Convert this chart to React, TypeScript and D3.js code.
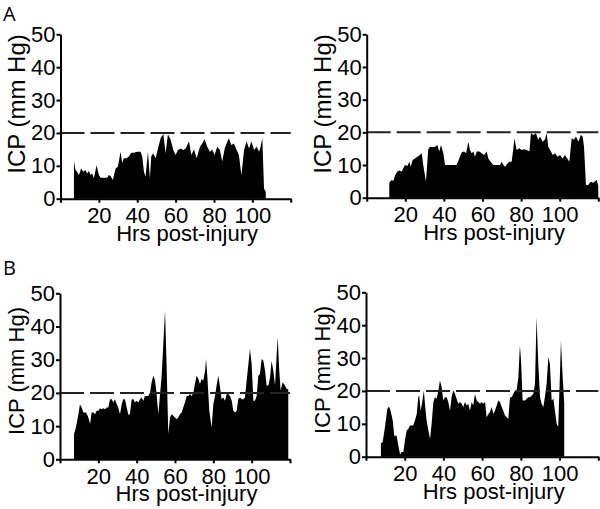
import React, { useRef, useEffect } from "react";
import * as d3 from "d3";

// ICP traces (hours post-injury, mm Hg)
const aLeftHours = [7.0, 7.8, 8.3, 9.6, 10.8, 11.8, 13.0, 13.9, 14.8, 15.7, 16.5, 17.4, 18.8, 20.0, 20.9, 22.6, 24.3, 25.2, 26.1, 27.3, 28.7, 29.9, 31.3, 32.2, 33.0, 34.4, 35.7, 36.9, 38.3, 40.0, 41.7, 42.6, 43.5, 44.3, 45.6, 46.6, 47.3, 48.3, 49.6, 50.8, 52.2, 53.6, 54.8, 56.0, 57.4, 58.8, 60.0, 61.2, 62.6, 64.0, 65.2, 67.0, 68.2, 69.6, 71.0, 72.7, 73.9, 75.1, 76.5, 77.9, 79.1, 80.3, 81.7, 83.1, 84.3, 85.6, 87.0, 87.8, 89.0, 90.4, 91.8, 93.0, 94.3, 95.7, 97.0, 98.3, 99.5, 100.9, 102.3, 103.5, 104.3, 105.2, 106.1, 107.0];
const aLeftIcp = [11.5, 8.7, 8.5, 7.2, 9.2, 8.2, 8.7, 7.7, 8.4, 7.2, 7.7, 6.2, 10.2, 7.2, 6.4, 6.4, 6.4, 7.2, 6.9, 5.7, 9.2, 9.7, 14.3, 10.8, 12.3, 12.3, 12.8, 14.0, 14.0, 14.3, 14.3, 12.8, 8.2, 6.7, 14.3, 6.2, 12.8, 13.8, 12.3, 15.3, 18.4, 19.7, 13.8, 19.6, 17.9, 14.8, 13.3, 14.8, 15.3, 14.8, 15.3, 17.4, 13.3, 15.0, 12.3, 15.8, 16.8, 18.1, 15.8, 14.3, 15.0, 13.3, 15.8, 14.8, 11.3, 15.3, 17.4, 18.4, 16.3, 16.8, 14.8, 13.3, 7.2, 14.8, 17.4, 15.3, 17.4, 14.8, 15.8, 14.3, 15.8, 18.4, 3.1, 2.1];

const aRightHours = [11.7, 12.9, 13.8, 14.7, 15.9, 16.9, 18.1, 19.0, 19.8, 21.1, 22.1, 22.8, 23.8, 25.0, 26.2, 27.6, 28.5, 29.3, 30.7, 31.9, 32.8, 34.2, 35.4, 36.6, 37.6, 38.5, 39.7, 40.6, 43.0, 46.6, 48.0, 49.2, 50.4, 51.5, 52.7, 53.5, 54.4, 55.3, 56.1, 57.0, 58.4, 59.6, 60.8, 62.2, 63.0, 64.2, 65.6, 67.3, 69.1, 69.9, 70.8, 71.7, 72.9, 73.9, 75.1, 76.0, 76.5, 77.7, 79.1, 80.3, 81.5, 82.9, 84.3, 85.1, 86.3, 87.7, 88.9, 89.8, 91.2, 92.4, 93.2, 94.1, 95.0, 96.4, 97.6, 98.8, 100.2, 101.5, 102.7, 103.9, 105.0, 106.2, 107.4, 108.4, 109.7, 110.9, 111.9, 112.6, 113.6, 114.8, 116.0, 117.4, 119.2, 120.0];
const aRightIcp = [4.6, 5.4, 5.1, 6.9, 8.0, 8.3, 8.0, 9.0, 10.0, 9.7, 11.0, 9.5, 11.5, 12.0, 12.5, 13.1, 13.6, 10.0, 4.9, 14.8, 15.6, 15.4, 15.6, 16.1, 14.1, 16.1, 13.6, 10.0, 10.0, 10.0, 12.1, 13.8, 14.1, 13.6, 17.1, 14.6, 13.6, 14.1, 12.5, 14.1, 14.1, 13.6, 13.1, 14.1, 12.0, 11.0, 10.0, 10.0, 10.0, 11.0, 10.0, 9.5, 10.5, 11.0, 11.0, 15.1, 18.2, 14.6, 15.1, 14.6, 14.8, 14.6, 14.1, 19.7, 19.2, 19.7, 17.7, 18.7, 17.1, 17.9, 19.7, 15.6, 14.6, 13.1, 13.6, 12.5, 13.1, 12.0, 13.1, 12.0, 11.0, 18.2, 17.7, 18.7, 17.1, 19.2, 18.7, 15.6, 3.9, 3.9, 4.9, 4.6, 5.4, 3.6];

const bLeftHours = [7.3, 8.3, 9.6, 10.4, 11.3, 12.2, 13.6, 14.8, 15.7, 16.5, 17.4, 18.3, 19.1, 20.0, 20.9, 21.7, 22.6, 23.5, 24.3, 25.2, 26.1, 27.0, 27.8, 28.7, 29.6, 30.4, 31.3, 32.2, 33.0, 33.9, 34.8, 35.7, 36.5, 37.4, 38.3, 39.1, 40.0, 40.9, 41.7, 42.6, 43.5, 44.3, 45.2, 46.1, 47.0, 47.8, 48.7, 49.6, 50.4, 51.3, 52.2, 53.0, 53.9, 54.8, 55.7, 56.5, 57.4, 58.3, 59.1, 60.0, 60.9, 61.7, 62.6, 63.5, 64.3, 65.2, 66.1, 67.0, 67.8, 68.7, 69.6, 70.4, 71.3, 72.2, 73.0, 73.9, 74.8, 75.7, 76.2, 76.9, 77.9, 79.1, 80.0, 80.9, 81.7, 82.6, 83.5, 84.3, 85.2, 86.1, 87.0, 87.8, 88.7, 89.6, 90.4, 91.3, 92.2, 93.0, 93.9, 94.8, 95.7, 96.5, 97.4, 98.3, 99.1, 100.0, 100.9, 101.7, 102.6, 103.5, 104.3, 105.2, 106.1, 107.0, 107.8, 108.7, 109.6, 110.4, 111.3, 112.2, 113.0, 113.6, 114.4, 115.1, 116.2, 117.4, 118.3, 119.1];
const bLeftIcp = [7.6, 9.6, 13.6, 16.6, 15.6, 14.1, 14.1, 12.6, 10.6, 14.1, 14.1, 13.6, 14.6, 14.6, 15.4, 15.1, 15.4, 15.1, 15.6, 15.6, 18.1, 18.1, 17.1, 18.1, 16.6, 15.6, 13.6, 16.6, 18.1, 18.1, 15.6, 13.4, 13.6, 18.1, 18.1, 17.1, 17.6, 17.1, 18.1, 18.6, 17.6, 19.1, 19.1, 19.1, 20.1, 23.2, 25.2, 23.7, 19.7, 13.6, 19.7, 24.7, 34.7, 44.8, 26.7, 7.6, 12.6, 13.6, 13.1, 12.6, 12.1, 12.6, 13.6, 14.1, 15.6, 17.1, 19.1, 19.1, 19.7, 19.1, 20.1, 22.7, 25.2, 24.2, 22.7, 24.2, 23.7, 26.7, 30.2, 24.7, 14.6, 9.6, 16.6, 19.1, 22.2, 25.2, 21.7, 18.1, 18.6, 17.6, 19.7, 19.7, 19.1, 17.6, 14.6, 14.1, 14.6, 18.1, 18.6, 18.1, 18.1, 18.6, 23.7, 28.7, 33.2, 28.7, 17.6, 17.6, 19.1, 25.2, 25.7, 30.2, 29.7, 26.7, 22.2, 22.2, 24.7, 29.7, 26.7, 22.2, 31.2, 36.7, 26.7, 20.7, 23.2, 22.2, 21.2, 21.2];

const bRightHours = [7.7, 8.6, 9.8, 11.0, 11.9, 12.7, 13.8, 14.6, 15.8, 16.7, 17.6, 18.4, 19.3, 20.1, 21.0, 21.9, 22.7, 23.6, 24.4, 25.3, 26.2, 27.0, 27.5, 28.2, 28.9, 29.9, 30.6, 31.3, 32.2, 33.1, 33.9, 34.8, 35.6, 36.5, 37.4, 38.2, 39.1, 39.9, 40.8, 41.7, 42.5, 43.4, 44.2, 45.1, 46.0, 46.8, 47.7, 48.5, 49.4, 50.3, 51.1, 52.0, 52.8, 53.7, 54.6, 55.4, 56.3, 57.2, 58.0, 58.9, 59.7, 60.6, 61.5, 62.3, 63.2, 64.0, 64.9, 65.8, 66.6, 67.5, 68.3, 69.2, 70.1, 70.9, 71.8, 72.7, 73.5, 74.4, 75.2, 76.1, 77.0, 77.8, 78.7, 79.5, 80.1, 80.9, 82.1, 83.0, 83.8, 84.7, 85.6, 86.4, 87.3, 88.1, 89.0, 89.9, 90.7, 91.6, 92.4, 93.3, 94.2, 95.0, 95.9, 96.8, 97.6, 98.5, 99.3, 100.2, 100.7, 101.6, 102.4];
const bRightIcp = [4.1, 4.4, 9.0, 14.5, 15.3, 14.0, 11.0, 6.4, 6.4, 3.4, 0.7, 1.4, 1.4, 4.9, 8.0, 8.5, 9.5, 9.5, 9.5, 11.0, 13.0, 18.1, 18.6, 14.0, 16.1, 20.1, 15.1, 11.0, 8.0, 5.4, 10.0, 16.6, 18.1, 17.6, 20.1, 23.2, 21.1, 17.1, 18.1, 18.1, 16.6, 14.0, 18.1, 20.1, 19.1, 17.6, 16.1, 16.6, 16.1, 15.1, 16.6, 15.6, 16.1, 14.0, 16.6, 15.6, 19.1, 17.1, 16.6, 16.1, 16.6, 16.1, 16.6, 12.0, 13.0, 13.5, 15.1, 13.0, 14.0, 15.6, 17.1, 16.6, 15.1, 14.0, 12.5, 12.0, 11.5, 18.1, 18.1, 19.1, 20.1, 20.1, 24.2, 33.8, 29.2, 17.1, 17.1, 17.6, 18.1, 18.1, 18.6, 19.1, 22.1, 42.4, 28.2, 18.1, 16.1, 15.1, 18.1, 22.1, 30.3, 28.2, 17.1, 17.6, 14.0, 10.0, 9.0, 25.2, 35.3, 24.2, 16.1];

const xTicks = [0, 20, 40, 60, 80, 100, 120];
const yTicks = [0, 10, 20, 30, 40, 50];
const threshold = 20;

const panels = [
  { hours: aLeftHours, icp: aLeftIcp, left: 60.5, right: 290.7, top: 34.3, bottom: 198.7, letter: "A", letterY: 21, labelSize: 24, labelY: 104 },
  { hours: aRightHours, icp: aRightIcp, left: 366.7, right: 598.3, top: 34.3, bottom: 197.7, letter: "", letterY: 0, labelSize: 24, labelY: 104 },
  { hours: bLeftHours, icp: bLeftIcp, left: 60, right: 290, top: 293.3, bottom: 459.3, letter: "B", letterY: 275, labelSize: 22, labelY: 371 },
  { hours: bRightHours, icp: bRightIcp, left: 366, right: 598.3, top: 292.3, bottom: 456.7, letter: "", letterY: 0, labelSize: 22, labelY: 370 },
];

const FONT = "'Liberation Sans', Arial, sans-serif";

const App = () => {
  const ref = useRef(null);

  useEffect(() => {
    const svg = d3.select(ref.current);
    svg.selectAll("*").remove();

    panels.forEach((p) => {
      const x = d3.scaleLinear().domain([0, 120]).range([p.left, p.right]);
      const y = d3.scaleLinear().domain([0, 50]).range([p.bottom, p.top]);
      const g = svg.append("g");

      const pts = p.hours.map((h, i) => [h, p.icp[i]]);
      const area = d3
        .area()
        .x((d) => x(d[0]))
        .y0(y(0))
        .y1((d) => y(d[1]));
      g.append("path").datum(pts).attr("fill", "#000").attr("d", area);

      // 20 mm Hg threshold
      g.append("line")
        .attr("x1", x(0))
        .attr("x2", x(120))
        .attr("y1", y(threshold))
        .attr("y2", y(threshold))
        .attr("stroke", "#222")
        .attr("stroke-width", 2)
        .attr("stroke-dasharray", "24,6");

      const xAxis = g
        .append("g")
        .attr("transform", `translate(0,${y(0)})`)
        .call(
          d3
            .axisBottom(x)
            .tickValues(xTicks)
            .tickSize(4)
            .tickSizeOuter(0)
            .tickPadding(5)
            .tickFormat((d) => (d === 0 || d === 120 ? "" : String(d)))
        );
      const yAxis = g
        .append("g")
        .attr("transform", `translate(${x(0)},0)`)
        .call(
          d3
            .axisLeft(y)
            .tickValues(yTicks)
            .tickSize(4)
            .tickSizeOuter(0)
            .tickPadding(1)
        );
      [xAxis, yAxis].forEach((a) => {
        a.attr("font-family", FONT).attr("font-size", 22);
        a.selectAll("path, line").attr("stroke", "#000").attr("stroke-width", 2);
        a.selectAll("text").attr("fill", "#000");
      });

      g.append("text")
        .attr("transform", `translate(${x(0) - 36},${p.labelY}) rotate(-90)`)
        .attr("text-anchor", "middle")
        .attr("font-family", FONT)
        .attr("font-size", p.labelSize)
        .text("ICP (mm Hg)");

      g.append("text")
        .attr("x", x(66))
        .attr("y", y(0) + 42)
        .attr("text-anchor", "middle")
        .attr("font-family", FONT)
        .attr("font-size", 22)
        .text("Hrs post-injury");

      if (p.letter) {
        g.append("text")
          .attr("x", 3)
          .attr("y", p.letterY)
          .attr("font-family", "'Open Sans', sans-serif")
          .attr("font-size", 20)
          .text(p.letter);
      }
    });
  }, []);

  return (
    <svg
      ref={ref}
      width={600}
      height={509}
      style={{ position: "absolute", left: 0, top: 0, background: "#fff", display: "block" }}
    />
  );
};

export default App;
